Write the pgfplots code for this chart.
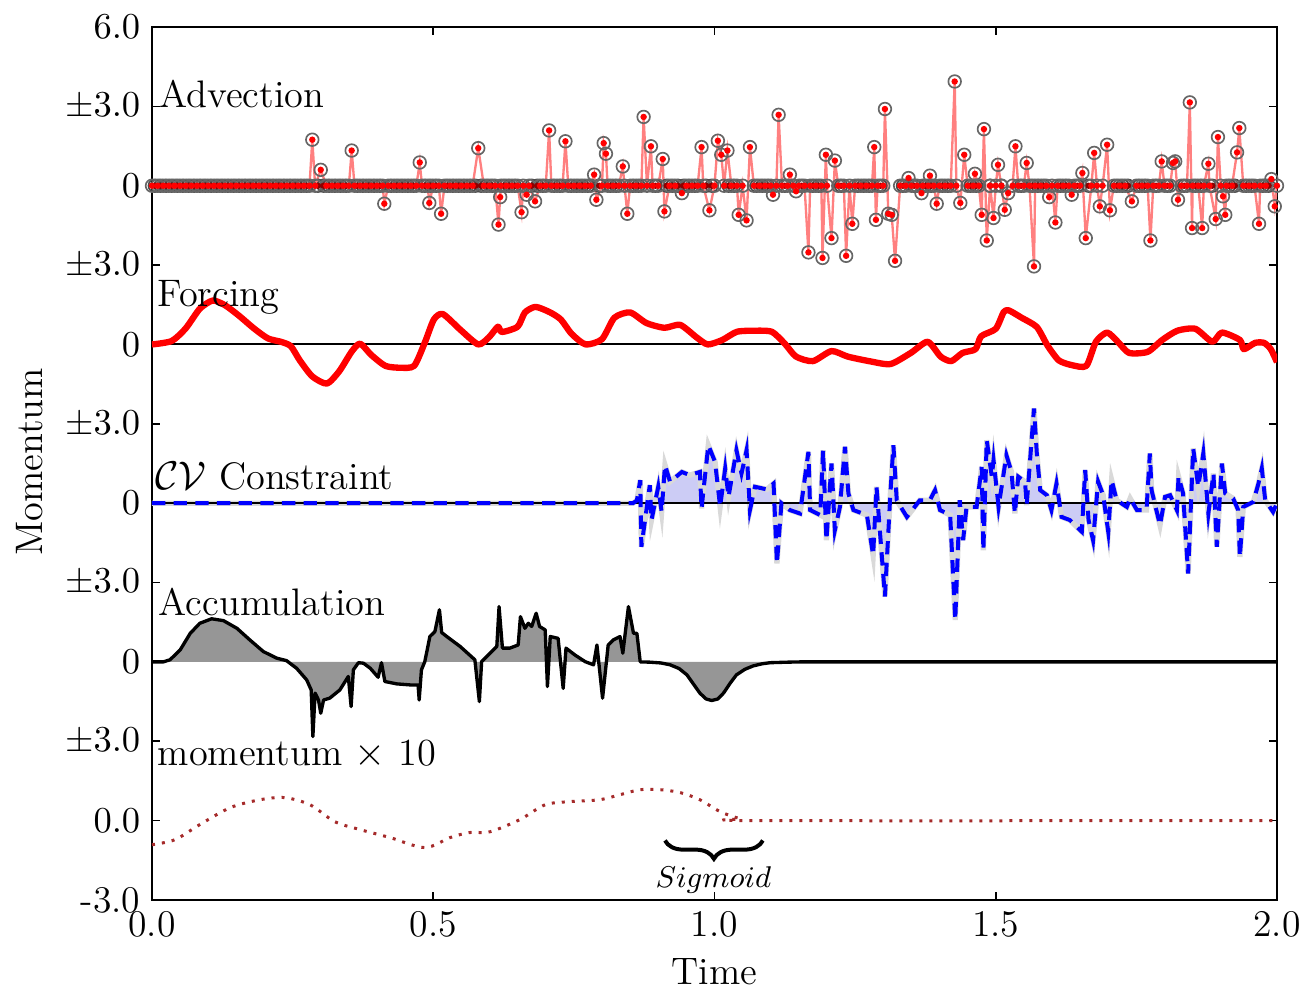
\documentclass[border=0pt]{standalone}
\usepackage{pgfplots}
\pgfplotsset{compat=1.18}
\usepackage{pgfplotstable}
\usetikzlibrary{decorations.pathreplacing}

\definecolor{cvfill}{RGB}{204,204,245}
\definecolor{accfill}{RGB}{150,150,150}
\definecolor{momc}{RGB}{165,42,42}
\newcommand{\lab}{\fontsize{11.5}{13.8}\selectfont}

% Advection (relative to its own zero line)
\pgfplotstableread[row sep=\\]{
x v\\
0.00 0\\0.01 0\\0.02 0\\0.03 0\\0.04 0\\0.05 0\\0.06 0\\0.07 0\\0.08 0\\0.09 0\\
0.10 0\\0.11 0\\0.12 0\\0.13 0\\0.14 0\\0.15 0\\0.16 0\\0.17 0\\0.18 0\\0.19 0\\
0.20 0\\0.21 0\\0.22 0\\0.23 0\\0.24 0\\0.25 0\\0.26 0\\0.27 0\\0.28 0\\
0.285 1.74\\0.29 0\\0.30 0.60\\0.31 0\\0.32 0\\0.33 0\\0.34 0\\0.35 0\\0.355 1.33\\0.36 0\\
0.37 0\\0.38 0\\0.39 0\\0.40 0\\0.41 0\\0.413 -0.68\\0.42 0\\0.43 0\\0.44 0\\0.45 0\\
0.46 0\\0.47 0\\0.476 0.88\\0.48 0\\0.49 0\\0.493 -0.65\\0.50 0\\0.51 0\\0.514 -1.06\\0.52 0\\
0.53 0\\0.54 0\\0.55 0\\0.56 0\\0.57 0\\0.58 1.42\\0.59 0\\0.60 0\\0.61 0\\0.616 -1.47\\
0.619 -0.43\\0.62 0\\0.63 0\\0.64 0\\0.65 0\\0.657 -1.00\\0.66 0\\0.666 -0.34\\0.67 0\\0.681 -0.59\\
0.69 0\\0.70 0\\0.706 2.09\\0.71 0\\0.72 0\\0.73 0\\0.735 1.68\\0.74 0\\0.75 0\\0.76 0\\
0.77 0\\0.78 0\\0.786 0.42\\0.79 -0.53\\0.80 0\\0.803 1.61\\0.807 1.21\\0.81 0\\0.82 0\\0.83 0\\
0.837 0.73\\0.84 0\\0.845 -1.06\\0.85 0\\0.86 0\\0.87 0\\0.874 2.60\\0.88 0\\0.887 1.49\\0.89 0\\
0.90 0\\0.908 1.01\\0.911 -0.97\\0.92 0\\0.93 0\\0.942 -0.28\\0.95 0\\0.96 0\\0.97 0\\0.977 1.46\\
0.98 0\\0.991 -0.93\\1.00 0\\1.006 1.70\\1.012 1.17\\1.017 0\\1.023 1.33\\1.03 0\\1.04 0\\1.043 -1.10\\
1.05 0\\1.057 -1.31\\1.063 1.46\\1.07 0\\1.08 0\\1.09 0\\1.10 0\\1.104 -0.34\\1.11 0\\1.114 2.68\\
1.12 0\\1.13 0\\1.134 0.42\\1.14 0\\1.145 -0.21\\1.15 0\\1.16 0\\1.167 -2.52\\1.17 0\\1.18 0\\
1.19 0\\1.192 -2.73\\1.198 1.17\\1.20 0\\1.208 -1.98\\1.214 0.95\\1.22 0\\1.23 0\\1.234 -2.65\\1.24 0\\
1.245 -1.44\\1.25 0\\1.26 0\\1.27 0\\1.28 0\\1.284 1.46\\1.287 -1.29\\1.29 0\\1.30 0\\1.303 2.90\\
1.309 -1.06\\1.315 -1.10\\1.321 -2.84\\1.33 0\\1.34 0\\1.345 0.29\\1.35 0\\1.36 0\\1.368 -0.28\\1.37 0\\
1.38 0\\1.383 0.38\\1.39 0\\1.395 -0.68\\1.40 0\\1.41 0\\1.42 0\\1.427 3.94\\1.43 0\\1.437 -0.65\\
1.444 1.17\\1.45 0\\1.46 0\\1.463 0.45\\1.47 0\\1.475 -1.10\\1.479 2.14\\1.484 -2.07\\1.49 0\\1.496 -1.22\\
1.50 0\\1.504 0.79\\1.51 0\\1.516 -0.91\\1.522 -0.28\\1.53 0\\1.535 1.49\\1.54 0\\1.55 0\\1.555 0.86\\
1.56 0\\1.568 -3.05\\1.57 0\\1.58 0\\1.59 0\\1.595 -0.43\\1.60 0\\1.606 -1.39\\1.61 0\\1.62 0\\
1.63 0\\1.635 -0.34\\1.64 0\\1.65 0\\1.654 0.48\\1.660 -1.98\\1.67 0\\1.675 1.24\\1.68 0\\1.685 -0.78\\
1.69 0\\1.698 1.55\\1.703 -0.93\\1.71 0\\1.72 0\\1.73 0\\1.742 -0.59\\1.75 0\\1.76 0\\1.77 0\\
1.775 -2.07\\1.78 0\\1.79 0\\1.795 0.92\\1.80 0\\1.81 0\\1.815 0.86\\1.819 0.92\\1.824 -0.53\\1.83 0\\
1.84 0\\1.845 3.15\\1.849 -1.60\\1.85 0\\1.86 0\\1.867 -1.60\\1.87 0\\1.878 0.83\\1.88 0\\1.891 -1.26\\
1.895 1.84\\1.90 0\\1.904 -0.40\\1.908 -1.10\\1.91 0\\1.92 0\\1.929 1.26\\1.933 2.18\\1.94 0\\1.95 0\\
1.96 0\\1.968 -1.44\\1.97 0\\1.98 0\\1.99 0.25\\1.996 -0.78\\2.00 0\\
}\adv

% Advection samples that sit on the zero line between the ones above
\pgfplotstableread[row sep=\\]{
x v\\
0.005 0\\0.015 0\\0.025 0\\0.035 0\\0.045 0\\0.055 0\\0.065 0\\0.075 0\\0.085 0\\0.095 0\\
0.105 0\\0.115 0\\0.125 0\\0.135 0\\0.145 0\\0.155 0\\0.165 0\\0.175 0\\0.185 0\\0.195 0\\
0.205 0\\0.215 0\\0.225 0\\0.235 0\\0.245 0\\0.255 0\\0.265 0\\0.275 0\\0.295 0\\
0.305 0\\0.315 0\\0.325 0\\0.335 0\\0.345 0\\0.365 0\\0.375 0\\0.385 0\\0.395 0\\
0.405 0\\0.425 0\\0.435 0\\0.445 0\\0.455 0\\0.465 0\\0.485 0\\0.495 0\\
0.505 0\\0.525 0\\0.535 0\\0.545 0\\0.555 0\\0.565 0\\0.575 0\\0.585 0\\0.595 0\\
0.605 0\\0.625 0\\0.635 0\\0.645 0\\0.675 0\\0.685 0\\0.695 0\\
0.715 0\\0.725 0\\0.745 0\\0.755 0\\0.765 0\\0.775 0\\0.795 0\\
0.815 0\\0.825 0\\0.855 0\\0.865 0\\0.895 0\\
0.915 0\\0.925 0\\0.935 0\\0.945 0\\0.955 0\\0.965 0\\0.985 0\\0.995 0\\
1.025 0\\1.035 0\\1.075 0\\1.085 0\\1.095 0\\
1.125 0\\1.155 0\\1.175 0\\1.185 0\\
1.225 0\\1.255 0\\1.265 0\\1.275 0\\1.295 0\\
1.335 0\\1.355 0\\1.375 0\\1.385 0\\
1.405 0\\1.415 0\\1.455 0\\1.465 0\\1.49 0\\
1.51 0\\1.545 0\\1.565 0\\1.575 0\\1.585 0\\
1.615 0\\1.625 0\\1.645 0\\1.665 0\\
1.715 0\\1.725 0\\1.735 0\\1.755 0\\1.765 0\\1.785 0\\
1.805 0\\1.835 0\\1.855 0\\1.865 0\\1.885 0\\
1.915 0\\1.925 0\\1.945 0\\1.955 0\\1.975 0\\1.985 0\\
}\advzero

% Forcing
\pgfplotstableread[row sep=\\]{
x v\\
0 0\\0.035 0.13\\0.060 0.61\\0.085 1.35\\0.108 1.66\\0.130 1.48\\0.155 1.08\\0.181 0.61\\
0.206 0.23\\0.231 0.09\\0.247 -0.07\\0.263 -0.61\\0.285 -1.21\\0.311 -1.48\\0.333 -1.01\\0.355 -0.27\\
0.370 0.03\\0.390 -0.40\\0.415 -0.81\\0.441 -0.88\\0.466 -0.81\\0.485 0.07\\0.501 0.94\\0.517 1.15\\
0.549 0.54\\0.580 0\\0.599 0.27\\0.615 0.67\\0.622 0.47\\0.650 0.67\\0.663 1.21\\0.682 1.42\\
0.708 1.21\\0.727 0.94\\0.746 0.40\\0.771 0\\0.800 0.20\\0.822 1.01\\0.850 1.21\\0.879 0.81\\
0.911 0.63\\0.939 0.74\\0.968 0.27\\0.988 0\\1.014 0.17\\1.040 0.48\\1.073 0.52\\1.102 0.48\\
1.125 0.03\\1.145 -0.46\\1.175 -0.63\\1.208 -0.25\\1.237 -0.46\\1.277 -0.64\\1.313 -0.74\\1.349 -0.32\\
1.379 0.10\\1.402 -0.46\\1.421 -0.63\\1.441 -0.32\\1.464 -0.18\\1.474 0.31\\1.500 0.59\\1.514 1.22\\
1.523 1.29\\1.546 1.01\\1.573 0.66\\1.592 -0.04\\1.612 -0.60\\1.635 -0.78\\1.661 -0.81\\1.678 0.10\\
1.698 0.45\\1.717 0.10\\1.737 -0.32\\1.770 -0.28\\1.796 0.17\\1.823 0.52\\1.855 0.59\\1.885 0.10\\
1.902 0.45\\1.934 0.17\\1.941 -0.18\\1.961 0.06\\1.977 0.06\\1.989 -0.18\\2.000 -0.67\\
}\forc

% CV constraint
\pgfplotstableread[row sep=\\]{
x v\\
0 0\\0.855 0\\0.862 0.10\\0.868 0.87\\0.870 -1.65\\0.885 0.68\\0.888 -0.64\\0.900 0.62\\
0.906 -0.33\\0.912 1.44\\0.921 0.81\\0.942 1.18\\0.956 1.06\\0.974 1.18\\0.977 -0.20\\0.989 2.19\\
1.001 1.56\\1.010 -0.14\\1.019 1.31\\1.025 0.24\\1.039 2.00\\1.048 1.12\\1.057 2.00\\1.063 -0.26\\
1.072 0.62\\1.093 0.52\\1.105 0.74\\1.111 -2.28\\1.119 0.00\\1.134 -0.26\\1.152 -0.39\\1.167 1.94\\
1.170 -0.26\\1.188 -0.45\\1.193 2.00\\1.199 -1.40\\1.208 1.50\\1.214 -1.02\\1.223 -0.14\\1.232 2.13\\
1.238 0.37\\1.247 -0.26\\1.271 -0.45\\1.282 -1.97\\1.288 0.62\\1.303 -3.53\\1.312 0.11\\1.318 2.19\\
1.324 0.11\\1.342 -0.52\\1.365 0.11\\1.383 0.11\\1.392 0.49\\1.401 -0.26\\1.419 -0.45\\1.428 -4.42\\
1.436 0.11\\1.442 -1.40\\1.448 -0.14\\1.466 -0.14\\1.475 1.37\\1.478 -1.78\\1.484 2.38\\1.493 1.00\\
1.496 1.63\\1.505 -0.14\\1.519 1.81\\1.528 1.18\\1.534 -0.39\\1.540 1.00\\1.552 0.81\\1.555 -0.08\\
1.568 3.58\\1.573 1.88\\1.579 0.49\\1.591 0.30\\1.599 -0.26\\1.608 0.74\\1.617 -0.52\\1.632 -0.64\\
1.653 -1.08\\1.659 1.25\\1.665 -0.64\\1.673 -1.40\\1.682 0.81\\1.691 0.30\\1.700 -1.08\\1.706 0.87\\
1.715 0.11\\1.733 -0.14\\1.739 0.18\\1.751 -0.26\\1.768 -0.26\\1.774 1.88\\1.777 0.49\\1.792 -0.83\\
1.801 0.24\\1.810 0.30\\1.822 -0.26\\1.825 1.00\\1.833 0.37\\1.842 -2.66\\1.851 2.07\\1.860 0.62\\
1.869 1.88\\1.878 -0.39\\1.887 1.12\\1.893 -1.65\\1.902 1.50\\1.908 0.37\\1.922 0.18\\1.931 -0.26\\
1.934 -2.03\\1.940 -0.14\\1.958 0.05\\1.967 0.74\\1.973 1.31\\1.979 0.11\\1.993 -0.33\\2.000 0\\
}\cv

% Accumulation
\pgfplotstableread[row sep=\\]{
x v\\
0 0\\0.020 0\\0.032 0.08\\0.050 0.45\\0.068 1.08\\0.085 1.46\\0.106 1.63\\0.127 1.56\\
0.151 1.27\\0.174 0.83\\0.198 0.39\\0.222 0.14\\0.239 0.05\\0.257 -0.24\\0.275 -0.68\\0.283 -1.06\\
0.286 -2.82\\0.290 -1.18\\0.296 -1.44\\0.300 -1.94\\0.305 -1.44\\0.316 -1.37\\0.334 -1.06\\0.349 -0.55\\
0.354 -1.69\\0.358 -0.30\\0.367 -0.03\\0.376 -0.05\\0.388 -0.24\\0.402 -0.58\\0.408 -0.03\\0.414 -0.74\\
0.435 -0.83\\0.459 -0.87\\0.473 -0.87\\0.475 -1.44\\0.479 -0.30\\0.485 0.01\\0.494 0.96\\0.503 1.15\\
0.511 1.97\\0.515 1.11\\0.524 0.96\\0.548 0.58\\0.574 0.08\\0.582 -1.50\\0.586 0.01\\0.601 0.33\\
0.613 0.58\\0.617 2.09\\0.623 0.52\\0.636 0.52\\0.651 0.64\\0.655 1.71\\0.663 1.27\\0.669 1.46\\
0.675 1.34\\0.683 1.84\\0.689 1.34\\0.699 1.21\\0.703 -0.93\\0.708 0.96\\0.722 0.89\\0.731 -1.00\\
0.736 0.52\\0.752 0.26\\0.770 0.01\\0.785 -0.11\\0.791 0.64\\0.801 -1.37\\0.811 0.64\\0.820 0.83\\
0.832 0.96\\0.837 0.33\\0.847 2.09\\0.856 1.08\\0.862 1.08\\0.868 0\\0.885 -0.01\\0.905 -0.04\\
0.921 -0.11\\0.937 -0.25\\0.951 -0.49\\0.963 -0.85\\0.974 -1.18\\0.985 -1.40\\0.995 -1.46\\1.006 -1.40\\
1.016 -1.18\\1.028 -0.80\\1.039 -0.49\\1.054 -0.28\\1.069 -0.15\\1.085 -0.07\\1.099 -0.03\\1.130 -0.01\\
1.152 0\\2.000 0\\
}\acc

% momentum x 10
\pgfplotstableread[row sep=\\]{
x v\\
0 -0.91\\0.041 -0.72\\0.085 -0.15\\0.139 0.49\\0.192 0.79\\0.236 0.87\\0.281 0.60\\0.325 -0.04\\
0.370 -0.34\\0.423 -0.64\\0.485 -1.02\\0.530 -0.64\\0.565 -0.45\\0.601 -0.42\\0.654 0.04\\0.699 0.60\\
0.743 0.72\\0.796 0.79\\0.832 0.98\\0.868 1.17\\0.903 1.17\\0.939 1.06\\0.974 0.79\\1.010 0.34\\
1.045 0.08\\1.081 0\\2.000 0\\
}\mom

\begin{document}
\begin{tikzpicture}
\begin{axis}[
  at={(0pt,0pt)}, anchor=south west,
  scale only axis, width=337.5pt, height=261.9pt,
  xmin=0, xmax=2, ymin=-3, ymax=30,
  xtick={0,0.5,1,1.5,2}, xticklabels={0.0,0.5,1.0,1.5,2.0},
  ytick={-3,0,3,6,9,12,15,18,21,24,27,30},
  yticklabels={-3.0,$0.0$,$\pm3.0$,$0$,$\pm3.0$,$0$,$\pm3.0$,$0$,$\pm3.0$,$0$,$\pm3.0$,$6.0$},
  tick align=inside, major tick length=2.4pt,
  tick style={black, line width=0.5pt},
  axis line style={black, line width=0.6pt},
  tick label style={font=\fontsize{11.3}{13}\selectfont},
  label style={font=\lab},
  xlabel={Time}, ylabel={Momentum},
  xlabel style={at={(axis description cs:0.5,-0.0825)}, anchor=center},
  ylabel style={at={(axis description cs:-0.1084,0.502)}, anchor=center},
]
% Advection
\addplot[only marks, mark=o, mark size=1.9pt,
  mark options={draw=black!70, line width=0.5pt, solid}]
  table[x=x, y expr=\thisrow{v}+24] {\advzero};
\addplot[red!50, line width=0.7pt, mark=o, mark size=1.9pt,
  mark options={draw=black!60, line width=0.5pt, solid}]
  table[x=x, y expr=\thisrow{v}+24] {\adv};
\addplot[only marks, mark=*, mark size=0.75pt, red!55!black]
  table[x=x, y expr=\thisrow{v}+24] {\advzero};
\addplot[only marks, mark=*, mark size=0.75pt, red]
  table[x=x, y expr=\thisrow{v}+24] {\adv};
% Forcing
\addplot[black, line width=0.6pt] coordinates {(0,18) (2,18)};
\addplot[red, line width=1.9pt, smooth, tension=0.4, line join=round]
  table[x=x, y expr=\thisrow{v}+18] {\forc};
% CV constraint
\addplot[draw=none, fill=cvfill] table[x=x, y expr=\thisrow{v}+12] {\cv} -- cycle;
\addplot[gray!30, line width=1.6pt] table[x=x, y expr=\thisrow{v}+12] {\cv};
\addplot[black, line width=0.6pt] coordinates {(0,12) (2,12)};
\addplot[blue, line width=1.2pt, dash pattern=on 4pt off 2.5pt]
  table[x=x, y expr=\thisrow{v}+12] {\cv};
% Accumulation
\addplot[draw=none, fill=accfill] table[x=x, y expr=\thisrow{v}+6] {\acc} -- cycle;
\addplot[black, line width=1pt, line join=round] table[x=x, y expr=\thisrow{v}+6] {\acc};
% momentum x 10
\addplot[momc, line width=0.9pt, dash pattern=on 0.9pt off 2.1pt, smooth]
  table[x=x, y=v] {\mom};

% labels
\node[anchor=base west, inner sep=0pt, font=\lab] at (axis cs:0.012,26.94) {Advection};
\node[anchor=base west, inner sep=0pt, font=\lab] at (axis cs:0.009,19.43) {Forcing};
\node[anchor=base west, inner sep=0pt, font=\lab] at (axis cs:0.005,12.50) {$\mathcal{CV}$ Constraint};
\node[anchor=base west, inner sep=0pt, font=\lab] at (axis cs:0.011,7.77) {Accumulation};
\node[anchor=base west, inner sep=0pt, font=\lab] at (axis cs:0.009,2.07) {momentum $\times$ 10};
\draw[line width=1.2pt, decorate, decoration={brace, amplitude=5.5pt, mirror}]
  (axis cs:0.912,-0.75) -- (axis cs:1.086,-0.75);
\node[font=\fontsize{8.6}{10}\selectfont] at (axis cs:0.998,-2.25) {$Sigmoid$};
\end{axis}
\pgfresetboundingbox
\path[use as bounding box] (-45.6pt,-26.7pt) rectangle (345.6pt,270pt);
\end{tikzpicture}
\end{document}
